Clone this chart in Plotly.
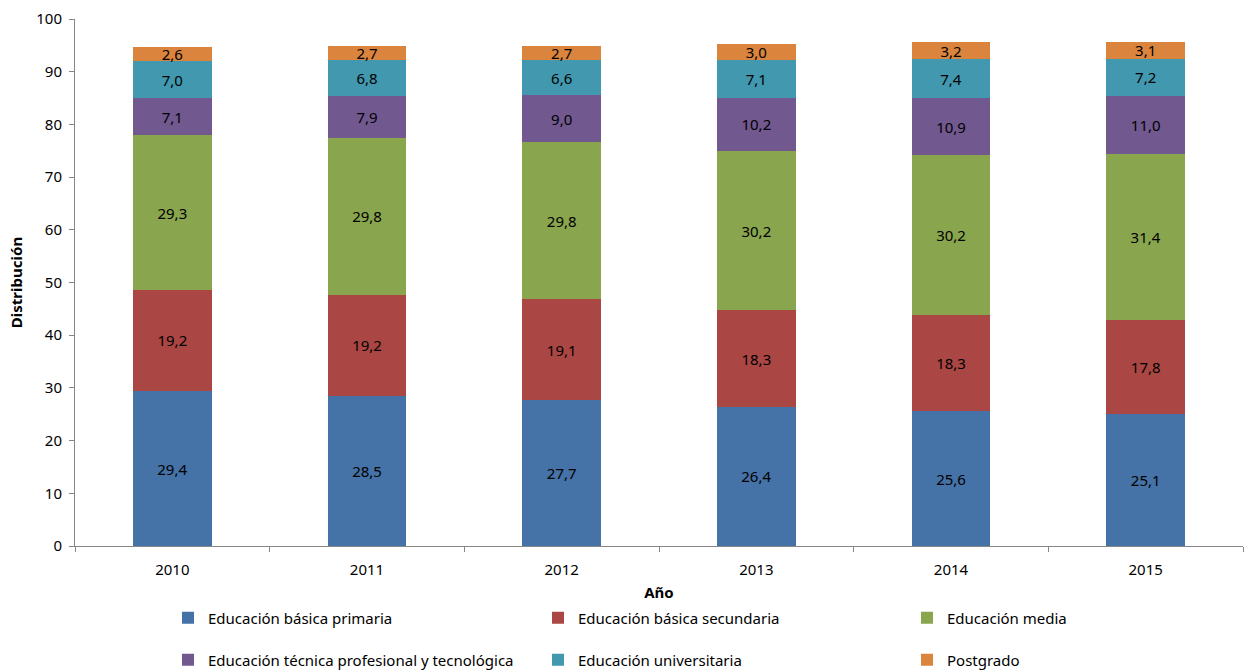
import plotly.graph_objects as go

years = ["2010", "2011", "2012", "2013", "2014", "2015"]
primaria = [29.4, 28.5, 27.7, 26.4, 25.6, 25.1]
secundaria = [19.2, 19.2, 19.1, 18.3, 18.3, 17.8]
media = [29.3, 29.8, 29.8, 30.2, 30.2, 31.4]
tecnica = [7.1, 7.9, 9.0, 10.2, 10.9, 11.0]
universitaria = [7.0, 6.8, 6.6, 7.1, 7.4, 7.2]
postgrado = [2.6, 2.7, 2.7, 3.0, 3.2, 3.1]

names = [
    "Educación básica primaria",
    "Educación básica secundaria",
    "Educación media",
    "Educación técnica profesional y tecnológica",
    "Educación universitaria",
    "Postgrado",
]
values = [primaria, secundaria, media, tecnica, universitaria, postgrado]
colors = ["#4572A7", "#AA4643", "#89A54E", "#71588F", "#4198AF", "#DB843D"]

FONT = "Noto Sans, sans-serif"
W, H = 1246, 670

fig = go.Figure()
for i, (name, vals, color) in enumerate(zip(names, values, colors)):
    fig.add_trace(go.Bar(
        x=years, y=vals, name=name,
        marker=dict(color=color, line=dict(width=0)),
        texttemplate="%{y:.1f}", textposition="inside",
        insidetextanchor="middle", textangle=0,
        textfont=dict(color="black", size=15, family=FONT),
        legend="legend" if i == 0 else f"legend{i + 1}",
        showlegend=True,
    ))

col_x = [168, 538, 907]
row_y = [618, 660]
legends = {}
for i in range(6):
    key = "legend" if i == 0 else f"legend{i + 1}"
    legends[key] = dict(
        x=col_x[i % 3] / W, y=1 - row_y[i // 3] / H,
        xref="container", yref="container",
        xanchor="left", yanchor="middle",
        orientation="h", itemwidth=30,
        font=dict(size=15, family=FONT, color="black"),
        bgcolor="rgba(0,0,0,0)", visible=True,
    )

fig.update_layout(
    width=W, height=H,
    showlegend=True,
    barmode="stack", bargap=0.595,
    separators=",.",
    paper_bgcolor="white", plot_bgcolor="white",
    margin=dict(l=75, r=3, t=19, b=124, autoexpand=False),
    font=dict(family=FONT, size=15, color="black"),
    uniformtext=dict(minsize=15, mode="show"),
    xaxis=dict(
        type="category", tickson="boundaries", ticks="outside", ticklen=5,
        tickcolor="#868686", showline=True, linecolor="#868686", linewidth=1,
        showgrid=False, tickfont=dict(size=15, family=FONT), ticklabelstandoff=10,
        automargin=False,
        title=dict(text="<b>Año</b>", font=dict(size=15, family=FONT), standoff=12),
    ),
    yaxis=dict(
        range=[0, 100], dtick=10, ticks="outside", ticklen=5,
        tickcolor="#868686", showline=True, linecolor="#868686", linewidth=1,
        showgrid=False, zeroline=False, tickfont=dict(size=15, family=FONT),
        ticklabelstandoff=4, automargin=False,
        title=dict(text="<b>Distribución</b>", font=dict(size=15, family=FONT), standoff=10),
    ),
    **legends,
)

fig.write_html(
    "out.html",
    config={"displayModeBar": False},
    post_script="document.body.style.margin='0';document.body.style.overflow='hidden';",
)
